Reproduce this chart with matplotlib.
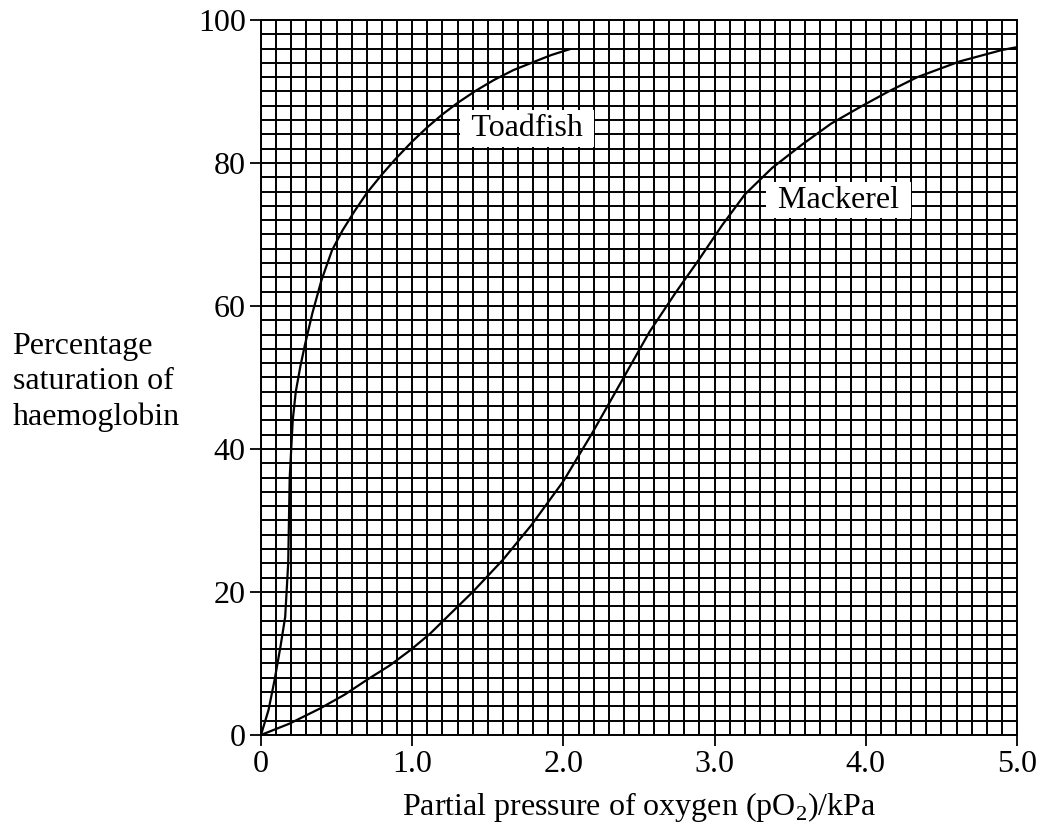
import matplotlib
matplotlib.use("Agg")
import matplotlib.pyplot as plt
from matplotlib.ticker import MultipleLocator

# ── data ────────────────────────────────────────────────────
toad_x = [0, 0.05, 0.09, 0.13, 0.16, 0.18, 0.19, 0.21, 0.23, 0.26, 0.29, 0.34,
          0.40, 0.47, 0.54, 0.62, 0.70, 0.80, 0.90, 1.00, 1.10, 1.20, 1.30,
          1.42, 1.54, 1.67, 1.80, 1.92, 2.04]
toad_y = [0, 3.5, 7.7, 12.5, 16.5, 24, 36, 44, 48, 51.5, 54.5, 59,
          63.6, 67.8, 70.6, 73.3, 75.8, 78.4, 80.8, 83, 85, 86.8, 88.4,
          90.1, 91.6, 93.0, 94.1, 95.1, 95.9]

mack_x = [0, 0.19, 0.39, 0.55, 0.70, 0.85, 0.99, 1.12, 1.25, 1.40, 1.60, 1.79,
          2.00, 2.19, 2.38, 2.57, 2.74, 2.90, 3.05, 3.20, 3.38, 3.58, 3.77,
          3.96, 4.15, 4.34, 4.62, 4.90, 5.0]
mack_y = [0, 1.6, 3.7, 5.6, 7.7, 9.7, 11.9, 14.2, 16.9, 20, 24.5, 29.4,
          35.5, 42.2, 49.3, 56.4, 61.8, 66.6, 71.3, 75.6, 79.3, 82.6, 85.5,
          87.8, 90, 92, 94.2, 95.8, 96.2]

x_ticks = [0, 1.0, 2.0, 3.0, 4.0, 5.0]
x_tick_labels = ["0", "1.0", "2.0", "3.0", "4.0", "5.0"]
y_ticks = [0, 20, 40, 60, 80, 100]

plt.rcParams["font.family"] = ["Liberation Serif", "DejaVu Serif"]
plt.rcParams["mathtext.fontset"] = "custom"
plt.rcParams["mathtext.rm"] = "Liberation Serif"
FS = 23

fig = plt.figure(figsize=(10.46, 8.26), dpi=100)
ax = fig.add_axes([0.2495, 0.1102, 0.9723 - 0.2495, 0.9758 - 0.1102])

ax.set_xlim(0, 5.0)
ax.set_ylim(0, 100)

ax.xaxis.set_minor_locator(MultipleLocator(0.1))
ax.yaxis.set_minor_locator(MultipleLocator(2))
ax.set_xticks(x_ticks)
ax.set_xticklabels(x_tick_labels, fontsize=FS)
ax.set_yticks(y_ticks)
ax.set_yticklabels([str(v) for v in y_ticks], fontsize=FS)
ax.tick_params(which="major", direction="out", length=8, width=1.3, color="black", pad=3)
ax.tick_params(which="minor", length=0)

ax.grid(which="both", color="black", linewidth=1.4)
ax.set_axisbelow(True)
for s in ax.spines.values():
    s.set_color("black")
    s.set_linewidth(1.4)

ax.plot(toad_x, toad_y, color="black", linewidth=1.6, zorder=3)
ax.plot(mack_x, mack_y, color="black", linewidth=1.6, zorder=3)

# white label boxes sit on top of the grid
box = dict(boxstyle="square,pad=0.12", facecolor="white", edgecolor="none")
ax.text(1.76, 84.8, " Toadfish ", fontsize=FS, ha="center", va="center",
        bbox=box, zorder=4)
ax.text(3.82, 74.8, " Mackerel ", fontsize=FS, ha="center", va="center",
        bbox=box, zorder=4)

ax.set_xlabel("Partial pressure of oxygen (pO$_\\mathrm{2}$)/kPa", fontsize=FS, labelpad=8)
fig.text(0.012, 0.5375, "Percentage\nsaturation of\nhaemoglobin", fontsize=FS,
         ha="left", va="center", linespacing=1.3)

fig.savefig("out.png", dpi=100, facecolor="white")
